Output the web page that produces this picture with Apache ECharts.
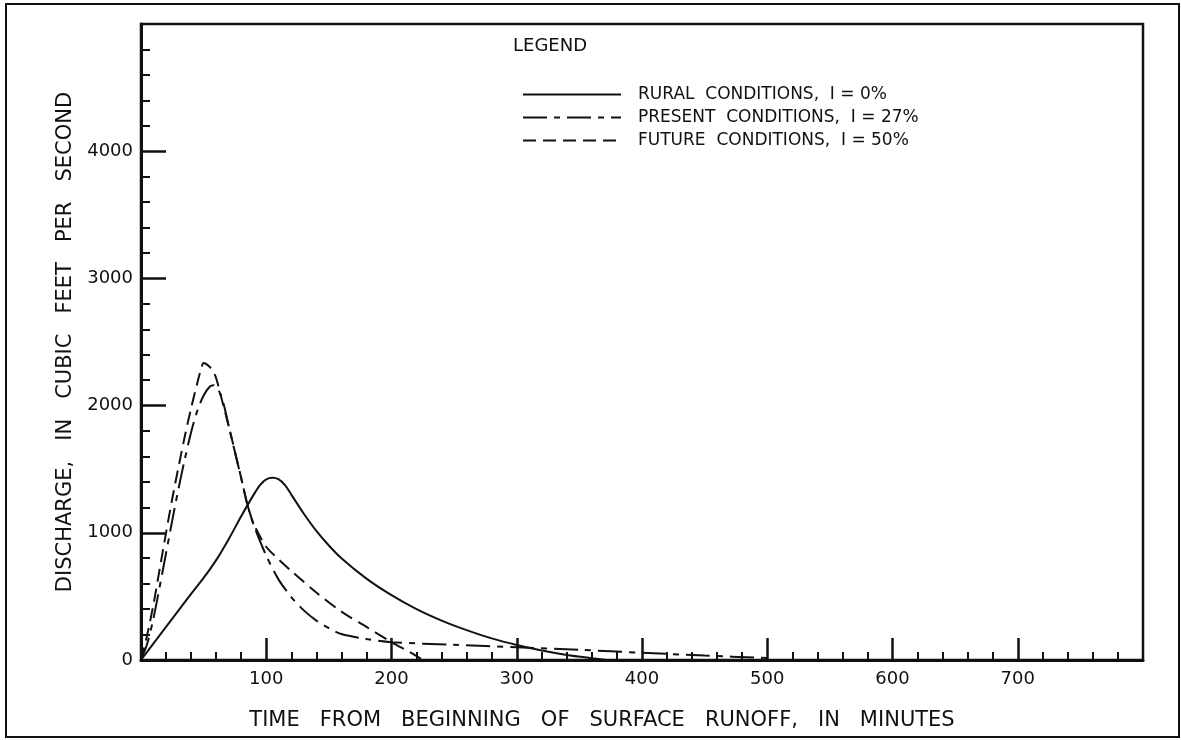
<!DOCTYPE html>
<html>
<head>
<meta charset="utf-8">
<script src="https://cdn.jsdelivr.net/npm/echarts@6/dist/echarts.min.js"></script>
<style>
  html, body { margin: 0; padding: 0; background: #fff; }
  #chart { width: 1181px; height: 740px; }
</style>
</head>
<body>
<div id="chart"></div>
<script>
// Hydrographs: discharge (cfs) against time from beginning of surface runoff (minutes)
const seriesNames = [
  'RURAL  CONDITIONS,  I = 0%',
  'PRESENT  CONDITIONS,  I = 27%',
  'FUTURE  CONDITIONS,  I = 50%'
];

// [minutes, cfs]
const rural = [
  [0, 0], [10, 130], [20, 260], [30, 390], [40, 520], [50, 645], [60, 785],
  [70, 950], [80, 1130], [90, 1300], [95, 1375], [100, 1420], [105, 1432],
  [110, 1420], [115, 1375], [120, 1300], [130, 1150], [140, 1015], [150, 900],
  [160, 800], [180, 640], [200, 510], [220, 400], [240, 310], [260, 235],
  [280, 170], [300, 118], [320, 75], [340, 40], [360, 14], [372, 0]
];

const present = [
  [0, 0], [5, 130], [10, 330], [15, 580], [20, 840], [25, 1100], [30, 1350],
  [35, 1580], [40, 1790], [45, 1960], [50, 2080], [55, 2150], [58, 2160],
  [62, 2120], [66, 2010], [70, 1840], [80, 1430], [85, 1220], [90, 1060],
  [100, 820], [110, 630], [120, 495], [130, 390], [140, 310], [150, 250],
  [160, 205], [180, 165], [200, 140], [250, 120], [300, 100], [350, 80],
  [400, 57], [450, 35], [500, 15]
];

const future = [
  [0, 0], [5, 200], [10, 440], [15, 720], [20, 1000], [25, 1270], [30, 1520],
  [35, 1760], [40, 1980], [45, 2180], [48, 2290], [50, 2335], [53, 2320],
  [57, 2280], [60, 2215], [65, 2030], [70, 1840], [80, 1430], [85, 1220],
  [90, 1070], [100, 890], [110, 790], [120, 700], [140, 530], [160, 380],
  [180, 260], [200, 140], [215, 60], [225, 0]
];

const xTicks = [100, 200, 300, 400, 500, 600, 700];
const yTicks = [0, 1000, 2000, 3000, 4000];

const ink = '#111';
const font = 'DejaVu Sans';

const chart = echarts.init(document.getElementById('chart'), null, { renderer: 'canvas' });

function lineSeries(name, data, dash) {
  return {
    name: name,
    type: 'line',
    data: data,
    symbol: 'none',
    smooth: 0.3,
    lineStyle: { color: ink, width: 2, type: dash },
    itemStyle: { color: ink },
    z: 3
  };
}

const plainNumber = function (v) { return String(v); };

chart.setOption({
  animation: false,
  backgroundColor: '#fff',
  grid: {
    left: 141, top: 24, right: 38, bottom: 80,
    show: true, borderColor: ink, borderWidth: 2.5, backgroundColor: 'transparent'
  },
  graphic: [
    {
      type: 'rect',
      shape: { x: 6, y: 4, width: 1173, height: 733 },
      style: { fill: 'none', stroke: ink, lineWidth: 2 }
    },
    {
      type: 'text',
      left: 513, top: 37,
      style: { text: 'LEGEND', font: '18px "' + font + '"', fill: ink }
    }
  ],
  legend: {
    orient: 'vertical',
    left: 517, top: 81,
    itemWidth: 98, itemHeight: 14, itemGap: 6,
    itemStyle: { opacity: 0 },
    textStyle: { fontFamily: font, fontSize: 17, color: ink, padding: [0, 0, 0, 12] },
    data: seriesNames
  },
  xAxis: {
    type: 'value',
    min: 0, max: 800, interval: 100,
    name: 'TIME   FROM   BEGINNING   OF   SURFACE   RUNOFF,   IN   MINUTES',
    nameLocation: 'middle',
    nameGap: 50,
    nameTextStyle: { fontFamily: font, fontSize: 21, color: ink, padding: [0, 80, 0, 0] },
    axisLine: { show: true, lineStyle: { color: ink, width: 3 } },
    axisTick: { show: true, inside: true, length: 22, customValues: xTicks, lineStyle: { color: ink, width: 2.5 } },
    minorTick: { show: true, splitNumber: 5, length: 8, lineStyle: { color: ink, width: 2 } },
    splitLine: { show: false },
    axisLabel: {
      fontFamily: font, fontSize: 18, color: ink, margin: 10,
      customValues: xTicks, formatter: plainNumber
    }
  },
  yAxis: {
    type: 'value',
    min: 0, max: 5000, interval: 1000,
    name: 'DISCHARGE,   IN   CUBIC   FEET   PER   SECOND',
    nameLocation: 'middle',
    nameGap: 56,
    nameTextStyle: { fontFamily: font, fontSize: 21, color: ink },
    axisLine: { show: true, lineStyle: { color: ink, width: 3 } },
    axisTick: { show: true, inside: true, length: 25, customValues: yTicks, lineStyle: { color: ink, width: 2.5 } },
    minorTick: { show: true, splitNumber: 5, length: 9, lineStyle: { color: ink, width: 2 } },
    splitLine: { show: false },
    axisLabel: {
      fontFamily: font, fontSize: 18, color: ink, margin: 8,
      customValues: yTicks, formatter: plainNumber
    }
  },
  series: [
    lineSeries(seriesNames[0], rural, 'solid'),
    lineSeries(seriesNames[1], present, [24, 7, 6, 7]),
    lineSeries(seriesNames[2], future, [13, 7])
  ]
});
</script>
</body>
</html>
